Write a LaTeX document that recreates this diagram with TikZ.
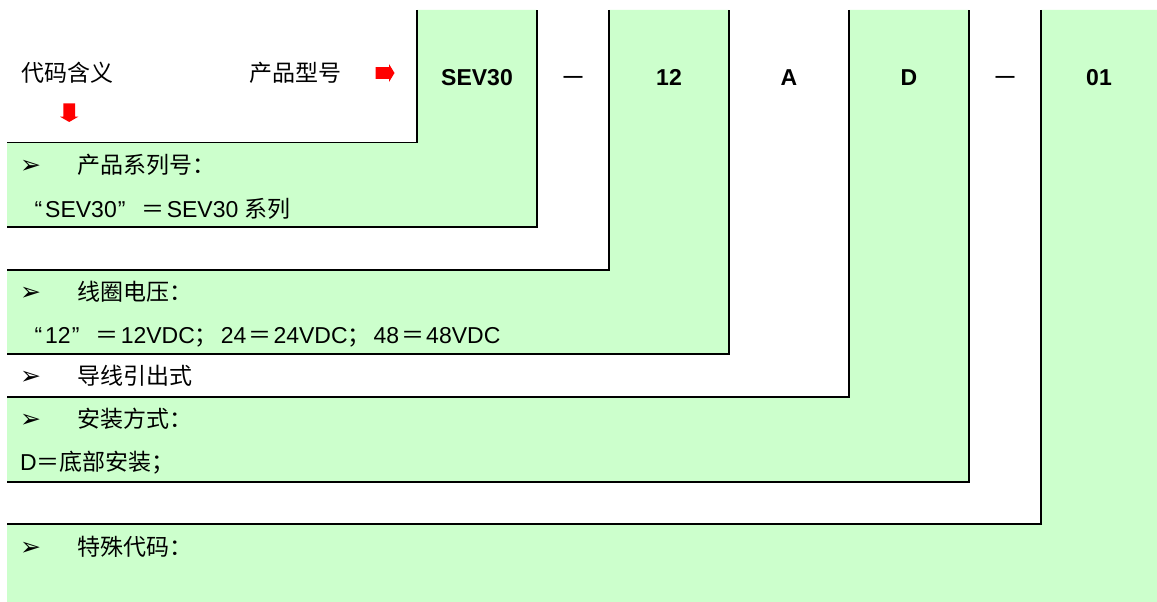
\documentclass[tikz,border=0pt]{standalone}
\usepackage{fontspec}
\setmainfont{Liberation Sans}
\newfontfamily\cjk{Noto Sans CJK SC}
\newfontfamily\dingbat{DejaVu Sans}
\definecolor{codegreen}{HTML}{CCFFCC}
\newcommand\bul{{\dingbat\fontsize{25}{28}\selectfont ➢}}
\newcommand\qopen{\makebox[25pt][r]{“\hspace{3pt}}}
\newcommand\qclose{\makebox[23pt][l]{\hspace{1pt}”}}
\newcommand\eqs{\makebox[27pt]{\cjk ＝}}
\newcommand\semi{\makebox[26pt][l]{\cjk ；}}
\begin{document}
\begin{tikzpicture}[x=1pt,y=-1pt,
  txt/.style={inner sep=0pt, anchor=base west, font=\fontsize{23}{27}\selectfont},
  code/.style={inner sep=0pt, anchor=base, font=\fontsize{23}{27}\selectfont\bfseries},
  band/.style={fill=codegreen},
  edge/.style={line width=1.3pt}]
\fill[white] (0,0) rectangle (1157,602);
\useasboundingbox (0,0) rectangle (1157,602);
\fill[band] (7,142.7) -| (417,10) -| (537,227) -- (7,227) -- cycle;
\fill[band] (7,270) -| (609,10) -| (729,354) -- (7,354) -- cycle;
\fill[band] (7,397) -| (849,10) -| (969,482) -- (7,482) -- cycle;
\fill[band] (7,524) -| (1041,10) -| (1157,602) -- (7,602) -- cycle;
\draw[edge] (7,142.7) -| (417,10);
\draw[edge] (7,227) -| (537,10);
\draw[edge] (7,270) -| (609,10);
\draw[edge] (7,354) -| (729,10);
\draw[edge] (7,397) -| (849,10);
\draw[edge] (7,482) -| (969,10);
\draw[edge] (7,524) -| (1041,10);
\node[txt] (meaning) at (21,81.5){\cjk 代码含义};
\node[txt] (model) at (249,81.5){\cjk 产品型号};
\fill[red] (375.5,67.2) -- (389,67.2) -- (389,64) -- (394.5,73) -- (389,82) -- (389,78.8) -- (375.5,78.8) -- cycle;
\fill[red] (63.3,103.3) -- (75,103.3) -- (75,116.7) -- (78.3,116.7) -- (69.2,122) -- (60,116.7) -- (63.3,116.7) -- cycle;
\node[code] (series) at (477,85){SEV30};
\node[code, font=\fontsize{19}{22}\selectfont\bfseries] (dasha) at (573,83){—};
\node[code] (voltage) at (669,85){12};
\node[code] (lead) at (789,85){A};
\node[code] (mount) at (909,85){D};
\node[code, font=\fontsize{19}{22}\selectfont\bfseries] (dashb) at (1005,83){—};
\node[code] (special) at (1099,85){01};
\node[txt] (bula) at (20,173){\bul};
\node[txt] (seriesa) at (77,173){\cjk 产品系列号：};
\node[txt] (seriesb) at (20,217){\qopen SEV30\qclose\eqs SEV30 {\cjk 系列}};
\node[txt] (bulb) at (20,300.5){\bul};
\node[txt] (voltagea) at (77,300.5){\cjk 线圈电压：};
\node[txt] (voltageb) at (20,343){\qopen 12\qclose\eqs 12VDC\semi 24\eqs 24VDC\semi 48\eqs 48VDC};
\node[txt] (bulc) at (20,384.5){\bul};
\node[txt] (leada) at (77,384.5){\cjk 导线引出式};
\node[txt] (buld) at (20,427.5){\bul};
\node[txt] (mounta) at (77,427.5){\cjk 安装方式：};
\node[txt] (mountb) at (20,470){D{\cjk ＝底部安装；}};
\node[txt] (bule) at (20,555){\bul};
\node[txt] (speciala) at (77,555){\cjk 特殊代码：};
\end{tikzpicture}
\end{document}
